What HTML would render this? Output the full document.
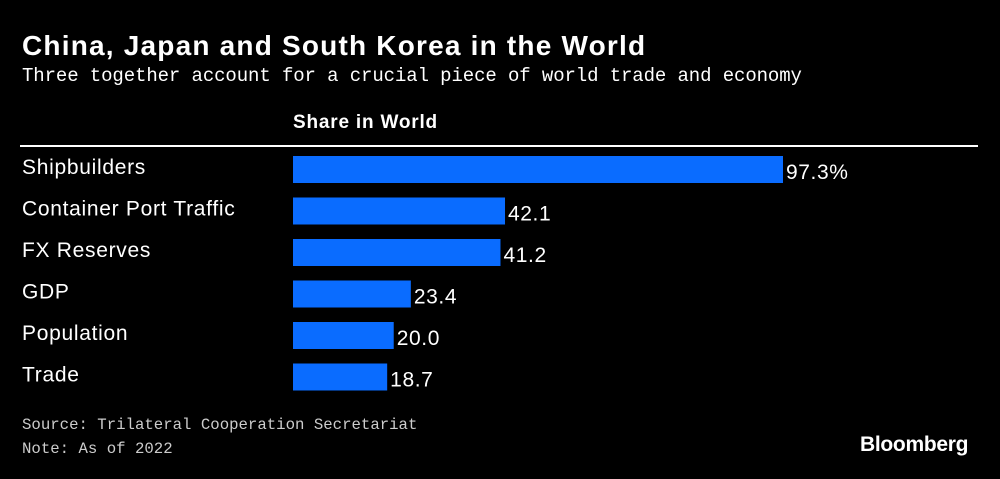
<!DOCTYPE html>
<html><head><meta charset="utf-8"><style>
body{margin:0;background:#000;width:1000px;height:479px;overflow:hidden;position:relative;font-family:"Liberation Sans",sans-serif;color:#fff}
.t{position:absolute;white-space:nowrap}
</style></head><body>
<div class="t" style="left:22px;top:30px;font-size:28px;font-weight:bold;letter-spacing:1.2px">China, Japan and South Korea in the World</div>
<div class="t" style="left:22px;top:65px;font-size:19px;font-family:'Liberation Mono',monospace;letter-spacing:-0.1px">Three together account for a crucial piece of world trade and economy</div>
<div class="t" style="left:293px;top:112px;font-size:19px;font-weight:bold;letter-spacing:0.8px">Share in World</div>
<div style="position:absolute;left:20px;top:145px;width:958px;height:2px;background:#fff"></div>
<svg id="chart" width="1000" height="479" style="position:absolute;left:0;top:0"></svg>
<div class="t" style="left:22px;top:416px;font-size:15.7px;font-family:'Liberation Mono',monospace;color:#ccc">Source: Trilateral Cooperation Secretariat</div>
<div class="t" style="left:22px;top:440px;font-size:15.7px;font-family:'Liberation Mono',monospace;color:#ccc">Note: As of 2022</div>
<div class="t" style="left:860px;top:433px;font-size:21px;font-weight:bold;letter-spacing:-0.3px">Bloomberg</div>
<script>
const categories=["Shipbuilders","Container Port Traffic","FX Reserves","GDP","Population","Trade"];
const values=[97.3,42.1,41.2,23.4,20.0,18.7];
const valueLabels=["97.3%","42.1","41.2","23.4","20.0","18.7"];
const svg=document.getElementById('chart');
const NS="http://www.w3.org/2000/svg";
const x=v=>293+v*(490/97.3);
const y=i=>156+i*41.5;
categories.forEach((c,i)=>{
 const r=document.createElementNS(NS,'rect');
 r.setAttribute('x',293);r.setAttribute('y',y(i));
 r.setAttribute('width',x(values[i])-293);r.setAttribute('height',27);
 r.setAttribute('fill','#0a6cff');
 
 
 svg.appendChild(r);
 const l=document.createElementNS(NS,'text');
 l.setAttribute('x',22);l.setAttribute('y',y(i)+18);
 l.setAttribute('fill','#fff');l.setAttribute('font-size','21');
 l.setAttribute('letter-spacing','0.7');
 l.setAttribute('font-family','Liberation Sans, sans-serif');
 l.textContent=c;
 
 
 svg.appendChild(l);
 const v=document.createElementNS(NS,'text');
 v.setAttribute('x',x(values[i])+3);v.setAttribute('y',y(i)+23);
 v.setAttribute('fill','#fff');v.setAttribute('font-size','21');
 v.setAttribute('letter-spacing','0.6');
 v.setAttribute('font-family','Liberation Sans, sans-serif');
 v.textContent=valueLabels[i];
 
 
 svg.appendChild(v);
});
</script>
</body></html>
